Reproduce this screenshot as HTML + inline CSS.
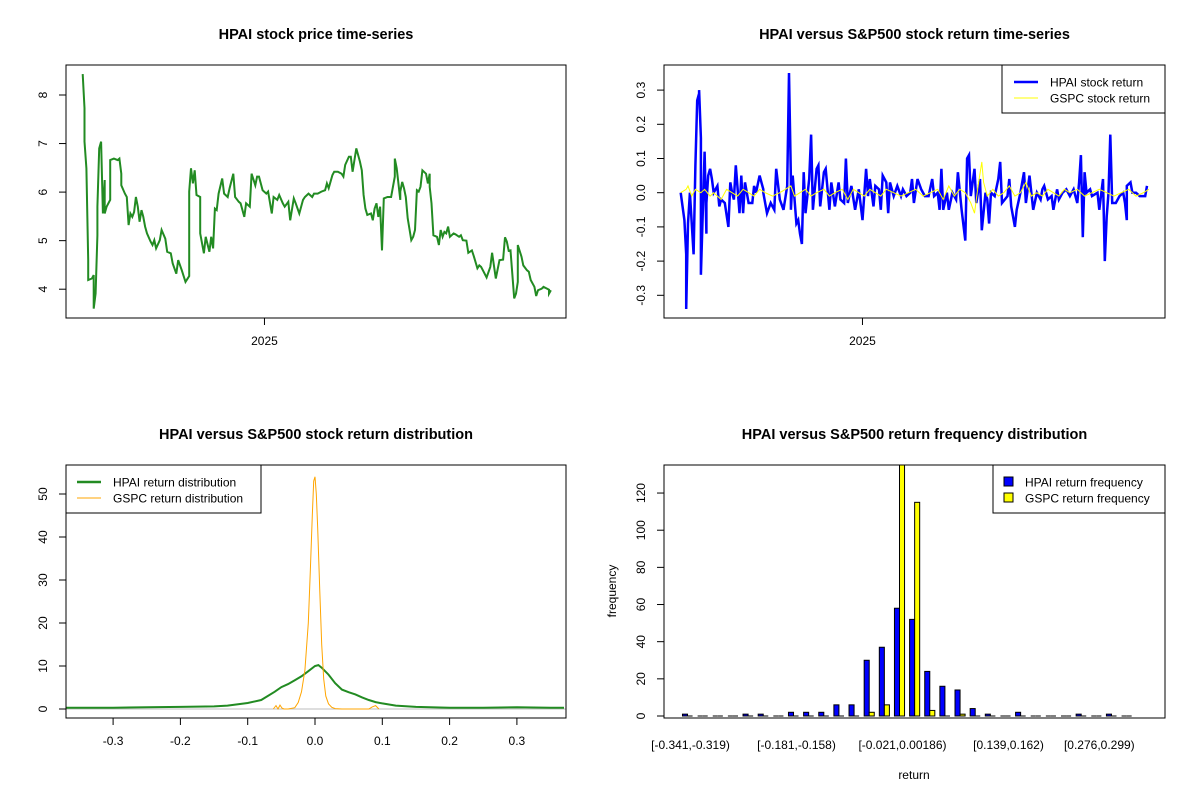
<!DOCTYPE html>
<html><head><meta charset="utf-8">
<style>
html,body{margin:0;padding:0;background:#fff;}
svg{display:block;font-family:"Liberation Sans",Arial,sans-serif;}
</style></head>
<body>
<svg id="chart" width="1200" height="800" viewBox="0 0 1200 800"></svg>
<script>
// ---------- DATA ----------
// HPAI price: [trading day, price]
const pricePts = [[0,8.43],[1,7.73],[1,7.04],[2,6.49],[3,4.60],[3,4.19],[5,4.22],[6,4.29],[6,3.60],[7,3.91],[8,5.11],[8,5.70],[9,6.90],[10,7.04],[11,5.56],[12,6.25],[12,5.56],[13,5.70],[15,5.84],[15,6.66],[17,6.69],[19,6.66],[20,6.69],[21,6.38],[21,6.14],[23,5.97],[24,5.90],[25,5.32],[26,5.56],[27,5.49],[28,5.59],[29,5.90],[30,5.70],[31,5.39],[32,5.63],[33,5.49],[34,5.29],[35,5.15],[37,4.98],[38,4.91],[39,5.01],[40,4.84],[42,5.01],[43,5.22],[45,5.04],[46,4.77],[48,4.74],[49,4.53],[51,4.32],[52,4.60],[54,4.39],[56,4.15],[58,4.27],[58,6.01],[59,6.49],[60,6.18],[61,6.45],[62,5.94],[64,5.90],[64,5.15],[66,4.74],[67,5.08],[69,4.77],[70,5.08],[71,4.84],[72,5.66],[73,5.63],[74,5.97],[76,6.28],[77,5.97],[79,5.90],[80,6.08],[82,6.38],[83,5.90],[85,5.80],[86,5.77],[88,5.49],[89,5.77],[91,5.70],[92,6.38],[94,6.14],[95,6.32],[96,6.32],[98,6.04],[100,5.97],[101,6.01],[103,5.56],[104,5.90],[106,5.84],[107,5.94],[109,5.77],[110,5.70],[112,5.80],[113,5.42],[115,5.87],[116,5.77],[118,5.56],[120,5.84],[121,5.90],[123,5.97],[125,5.90],[126,5.97],[128,5.97],[130,6.01],[132,6.04],[133,6.18],[134,6.08],[136,6.35],[137,6.42],[139,6.42],[141,6.38],[142,6.32],[143,6.56],[145,6.73],[146,6.73],[147,6.42],[149,6.90],[151,6.63],[152,6.45],[153,5.94],[154,5.66],[155,5.53],[157,5.56],[158,5.42],[159,5.66],[160,5.77],[161,5.49],[162,5.70],[163,4.80],[164,5.87],[166,5.90],[168,5.90],[170,6.32],[170,6.69],[171,6.49],[173,5.84],[173,6.01],[174,6.21],[175,6.08],[176,5.90],[177,5.46],[179,5.01],[180,5.08],[181,5.22],[182,6.04],[183,6.01],[184,6.11],[185,6.45],[187,6.38],[188,6.18],[189,6.38],[189,6.11],[190,5.77],[191,5.11],[193,5.08],[194,4.91],[195,5.22],[196,5.08],[197,5.18],[198,5.15],[199,5.29],[200,5.08],[202,5.15],[203,5.13],[205,5.08],[206,5.11],[207,5.01],[209,5.00],[210,4.75],[212,4.80],[213,4.68],[215,4.43],[216,4.49],[217,4.46],[218,4.39],[220,4.24],[222,4.46],[223,4.75],[225,4.22],[227,4.60],[229,4.61],[230,5.07],[231,4.98],[232,4.79],[233,4.80],[235,3.81],[236,3.91],[237,4.15],[237,4.91],[239,4.67],[240,4.49],[242,4.39],[243,4.36],[244,4.19],[246,4.05],[247,3.86],[248,3.98],[250,4.01],[251,4.05],[253,4.01],[254,3.99],[254,3.91],[255,3.98]];
const priceTicks = [4,5,6,7,8];
const dateTickDay = [99];
const dateTickLabels = ["2025"];

// HPAI daily return: [trading day, return]
const hpaiRet = [[0,0],[2,-0.08],[3,-0.18],[3,-0.34],[4,-0.09],[5,0],[7,-0.18],[8,0.08],[9,0.27],[10,0.29],[10,0.30],[11,0.16],[11,-0.24],[13,0.12],[14,-0.12],[14,-0.03],[15,0.05],[16,0.07],[17,0.04],[18,0.0],[20,0.02],[21,-0.04],[22,-0.02],[24,-0.03],[26,-0.10],[27,0.03],[28,0.0],[29,-0.02],[30,0.08],[32,-0.06],[33,0.05],[34,-0.06],[35,0.03],[37,-0.03],[39,-0.03],[40,0.02],[41,0],[43,0.05],[45,0.01],[45,0.0],[47,-0.06],[49,-0.03],[51,-0.05],[52,0.07],[54,-0.02],[56,-0.05],[58,0.02],[59,0.35],[60,0.04],[60,-0.05],[61,0.05],[63,-0.09],[64,-0.08],[65,-0.12],[66,-0.15],[67,0.06],[68,-0.06],[70,0.04],[71,0.17],[72,-0.05],[74,0.07],[75,0.08],[76,-0.04],[78,0.06],[79,0.07],[81,-0.05],[82,0.03],[84,-0.04],[86,0.03],[87,-0.02],[89,-0.03],[90,0.10],[91,-0.03],[93,0.02],[95,-0.05],[97,0.01],[99,-0.08],[101,0.07],[102,-0.01],[103,0.04],[105,-0.04],[106,0.02],[108,0.01],[109,-0.05],[110,0.05],[112,0.03],[113,-0.06],[114,0.03],[116,-0.01],[118,0.02],[120,-0.01],[121,0.01],[123,-0.01],[125,0.0],[126,0.04],[127,-0.03],[129,0.04],[131,0.01],[133,-0.01],[135,-0.01],[137,0.04],[138,-0.01],[140,0.0],[141,-0.05],[142,0.07],[143,-0.05],[145,0.0],[146,-0.05],[148,0.0],[150,-0.02],[151,0.06],[153,-0.05],[155,-0.14],[156,0.10],[157,0.11],[158,-0.01],[160,0.07],[161,-0.03],[163,0.04],[164,-0.11],[166,0.0],[167,-0.02],[168,-0.09],[169,0.0],[171,-0.01],[173,0.04],[174,0.09],[175,-0.03],[178,-0.01],[179,0.04],[180,-0.04],[182,-0.10],[183,-0.05],[185,0.0],[187,0.06],[188,-0.03],[190,0.05],[192,-0.05],[194,0.0],[196,-0.02],[197,0.01],[198,0.02],[200,-0.02],[202,-0.01],[203,-0.05],[205,0.01],[206,-0.02],[208,0.0],[210,0.01],[212,-0.01],[214,0.01],[216,-0.03],[217,0.03],[218,0.11],[219,-0.13],[220,0.06],[221,0.0],[223,0.01],[224,-0.01],[227,0.0],[228,-0.05],[230,0.04],[231,-0.20],[232,-0.07],[233,0.0],[234,0.17],[235,-0.03],[237,-0.03],[239,-0.01],[241,0.0],[242,-0.03],[243,-0.08],[243,0.02],[245,0.03],[246,0.0],[248,0.0],[250,-0.01],[252,-0.01],[253,-0.01],[254,0.02]];
// S&P500 (GSPC) daily return: [trading day, return]
const gspcRet = [[0,0.0],[3,0.01],[4,0.02],[6,-0.01],[8,0.01],[11,0.0],[13,0.01],[16,-0.01],[18,0.0],[22,-0.02],[25,0.01],[28,0.0],[31,-0.01],[34,0.01],[37,0.0],[40,-0.01],[43,0.01],[46,0.0],[50,-0.01],[54,0.0],[57,0.01],[60,0.02],[62,-0.01],[65,0.0],[68,0.01],[71,-0.01],[74,0.0],[78,0.01],[81,-0.01],[84,0.0],[88,0.01],[91,-0.02],[94,0.01],[97,0.0],[100,-0.01],[103,0.01],[106,0.0],[109,-0.01],[112,0.01],[116,0.0],[120,-0.01],[124,0.0],[128,0.01],[132,-0.01],[136,0.0],[140,0.01],[143,-0.02],[146,0.02],[149,-0.01],[152,0.01],[155,0.0],[158,-0.03],[160,-0.06],[162,0.02],[164,0.09],[165,0.03],[167,-0.01],[170,0.01],[173,-0.01],[176,0.0],[179,0.02],[182,-0.01],[185,0.0],[188,0.03],[191,-0.01],[194,0.0],[197,-0.01],[200,0.01],[203,0.0],[206,-0.01],[209,0.01],[212,0.0],[216,0.01],[220,-0.01],[224,0.0],[228,0.01],[232,0.0],[236,-0.01],[240,0.0],[244,0.01],[248,-0.01],[252,0.0],[255,0.01]];
const retTicks = [-0.3,-0.2,-0.1,0.0,0.1,0.2,0.3];

// Density estimates
const hpaiDensX = [-0.37,-0.35,-0.3,-0.25,-0.2,-0.15,-0.13,-0.1,-0.08,-0.06,-0.05,-0.04,-0.03,-0.02,-0.01,0.0,0.005,0.01,0.02,0.03,0.04,0.05,0.06,0.07,0.08,0.09,0.1,0.12,0.15,0.2,0.25,0.3,0.35,0.37];
const hpaiDensY = [0.3,0.3,0.3,0.4,0.5,0.6,0.8,1.4,2.1,4.0,5.1,5.8,6.7,7.6,8.8,10.0,10.2,9.6,8.0,6.0,4.5,3.9,3.4,2.7,2.1,1.6,1.3,0.8,0.5,0.3,0.3,0.4,0.3,0.3];
const gspcDensX = [-0.062,-0.058,-0.055,-0.052,-0.049,-0.046,-0.04,-0.03,-0.025,-0.02,-0.015,-0.01,-0.007,-0.004,-0.002,0.0,0.002,0.004,0.007,0.01,0.013,0.016,0.02,0.025,0.03,0.04,0.08,0.085,0.09,0.095];
const gspcDensY = [0,0.8,0,0.9,0.2,0,0,0.3,1.5,4,9,20,32,45,53,54,50,42,28,15,7,3,1.2,0.4,0.1,0,0,0.5,0.8,0];
const densXTicks = [-0.3,-0.2,-0.1,0.0,0.1,0.2,0.3];
const densYTicks = [0,10,20,30,40,50];

// Histogram (30 bins)
const hpaiFreq = [1,0,0,0,1,1,0,2,2,2,6,6,30,37,58,52,24,16,14,4,1,0,2,0,0,0,1,0,1,0];
const gspcFreq = [0,0,0,0,0,0,0,0,0,0,0,0,2,6,140,115,3,0,1,0,0,0,0,0,0,0,0,0,0,0];
const binLabelIdx = [0,7,14,21,27];
const binLabels = ["[-0.341,-0.319)","[-0.181,-0.158)","[-0.021,0.00186)","[0.139,0.162)","[0.276,0.299)"];
const freqTicks = [0,20,40,60,80,100,120];

// ---------- RENDER ----------
const NS = "http://www.w3.org/2000/svg";
const svg = document.getElementById('chart');
function mk(tag, attrs, parent, text){
  const e = document.createElementNS(NS, tag);
  for (const k in attrs) e.setAttribute(k, attrs[k]);
  if (text !== undefined) e.textContent = text;
  (parent || svg).appendChild(e);
  return e;
}
function fmt(v, d){ return v.toFixed(d); }

function panel(name, L, T, R, B, title){
  const g = mk('g', {});
  
  
  const t = mk('text', {x:(L+R)/2, y:T-26, 'text-anchor':'middle', 'font-size':'14.5', 'font-weight':'bold'}, g, title);
  
  
  return g;
}
function boxRect(g, name, L, T, R, B){
  const r = mk('rect', {x:L, y:T, width:R-L, height:B-T, fill:'none', stroke:'#000', 'stroke-width':1}, g);
  
  
}
function yAxis(g, name, L, ticks, sy, dec){
  const ax = mk('g', {}, g);
  
  
  const ys = ticks.map(sy);
  mk('line', {x1:L, x2:L, y1:Math.min(...ys), y2:Math.max(...ys), stroke:'#000'}, ax);
  ticks.forEach(v => {
    const y = sy(v);
    mk('line', {x1:L-7, x2:L, y1:y, y2:y, stroke:'#000'}, ax);
    const t = mk('text', {x:L-23, y:y, 'text-anchor':'middle', 'font-size':'12', transform:`rotate(-90 ${L-23} ${y})`, 'dominant-baseline':'central'}, ax, dec===null? String(v) : fmt(v,dec));
    
    
  });
}
function xAxisTicks(g, name, B, ticks, sx, labels){
  const ax = mk('g', {}, g);
  
  
  const xs = ticks.map(sx);
  if (xs.length > 1) mk('line', {x1:Math.min(...xs), x2:Math.max(...xs), y1:B, y2:B, stroke:'#000'}, ax);
  ticks.forEach((v,i) => {
    const x = sx(v);
    mk('line', {x1:x, x2:x, y1:B, y2:B+7, stroke:'#000'}, ax);
    const t = mk('text', {x:x, y:B+27, 'text-anchor':'middle', 'font-size':'12'}, ax, labels[i]);
    
    
  });
}
function pathOf(pts){ return pts.map((p,i)=>(i?'L':'M')+p[0].toFixed(1)+' '+p[1].toFixed(1)).join(' '); }

// ===== Panel 1: price =====
{
  const L=66,T=65,R=566,B=318;
  const g = panel('price-panel', L,T,R,B,'HPAI stock price time-series');
  const sx = d => 82.7 + d*1.836;
  const sy = v => 95 + (8 - v)*48.55;
  const p = mk('path', {d:pathOf(pricePts.map(q=>[sx(q[0]),sy(q[1])])), fill:'none', stroke:'#228B22', 'stroke-width':2}, g);
  
  
  yAxis(g,'price',L,priceTicks,sy,null);
  xAxisTicks(g,'price',B,dateTickDay,sx,dateTickLabels);
  boxRect(g,'price',L,T,R,B);
}
// ===== Panel 2: returns =====
{
  const L=664,T=65,R=1165,B=318;
  const g = panel('return-panel', L,T,R,B,'HPAI versus S&P500 stock return time-series');
  const sx = d => 680.7 + d*1.836;
  const sy = v => 192.7 - v*342;
  const p = mk('path', {d:pathOf(hpaiRet.map(q=>[sx(q[0]),sy(q[1])])), fill:'none', stroke:'#0000FF', 'stroke-width':2.5}, g);
  
  
  const p2 = mk('path', {d:pathOf(gspcRet.map(q=>[sx(q[0]),sy(q[1])])), fill:'none', stroke:'#FFFF00', 'stroke-width':1}, g);
  
  
  yAxis(g,'return',L,retTicks,sy,1);
  xAxisTicks(g,'return',B,dateTickDay,sx,dateTickLabels);
  boxRect(g,'return',L,T,R,B);
  const lg = mk('g', {}, g);
  
  
  mk('rect', {x:1002, y:65, width:163, height:48, fill:'#fff', stroke:'#000'}, lg);
  mk('line', {x1:1014, x2:1038, y1:82, y2:82, stroke:'#0000FF', 'stroke-width':2.5}, lg);
  mk('line', {x1:1014, x2:1038, y1:98, y2:98, stroke:'#FFFF00', 'stroke-width':1}, lg);
  const a = mk('text', {x:1050, y:86.5, 'font-size':'12'}, lg, 'HPAI stock return');
  
  
  const b = mk('text', {x:1050, y:102.5, 'font-size':'12'}, lg, 'GSPC stock return');
  
  
}
// ===== Panel 3: density =====
{
  const L=66,T=465,R=566,B=718;
  const g = panel('density-panel', L,T,R,B,'HPAI versus S&P500 stock return distribution');
  const sx = v => 315 + v*673;
  const sy = v => 709 - v*4.3;
  mk('line', {x1:L, x2:R, y1:sy(0), y2:sy(0), stroke:'#bebebe'}, g);
  const p = mk('path', {d:pathOf(hpaiDensX.map((x,i)=>[sx(x),sy(hpaiDensY[i])])), fill:'none', stroke:'#228B22', 'stroke-width':2}, g);
  
  
  const p2 = mk('path', {d:pathOf(gspcDensX.map((x,i)=>[sx(x),sy(gspcDensY[i])])), fill:'none', stroke:'#FFA500', 'stroke-width':1}, g);
  
  
  yAxis(g,'density',L,densYTicks,sy,null);
  xAxisTicks(g,'density',B,densXTicks,sx,densXTicks.map(v=>fmt(v,1)));
  boxRect(g,'density',L,T,R,B);
  const lg = mk('g', {}, g);
  
  
  mk('rect', {x:66, y:465, width:195, height:48, fill:'#fff', stroke:'#000'}, lg);
  mk('line', {x1:77, x2:101, y1:482, y2:482, stroke:'#228B22', 'stroke-width':2.5}, lg);
  mk('line', {x1:77, x2:101, y1:498, y2:498, stroke:'#FFA500', 'stroke-width':1}, lg);
  const a = mk('text', {x:113, y:486.5, 'font-size':'12'}, lg, 'HPAI return distribution');
  
  
  const b = mk('text', {x:113, y:502.5, 'font-size':'12'}, lg, 'GSPC return distribution');
  
  
}
// ===== Panel 4: histogram =====
{
  const L=664,T=465,R=1165,B=718;
  const g = panel('histogram-panel', L,T,R,B,'HPAI versus S&P500 return frequency distribution');
  const sx = u => 685 + (u - 1.5)*5.047;
  const sy = v => 716 - v*1.858;
  const defs = mk('defs', {}, g);
  const cp = mk('clipPath', {id:'histclip'}, defs);
  mk('rect', {x:L, y:T, width:R-L, height:B-T}, cp);
  const bars = mk('g', {'clip-path':'url(#histclip)'}, g);
  
  
  function bar(x0, x1, v, fill, nm){
    let e;
    if (v <= 0) {
      e = mk('line', {x1:x0, x2:x1, y1:sy(0), y2:sy(0), stroke:'#000', 'stroke-width':1}, bars);
    } else {
      e = mk('rect', {x:x0, y:sy(v), width:x1-x0, height:sy(0)-sy(v), fill:fill, stroke:'#000', 'stroke-width':1}, bars);
    }
    
    
  }
  hpaiFreq.forEach((v,i) => {
    bar(sx(1+3*i), sx(2+3*i), v, '#0000FF', 'bar-hpai');
    bar(sx(2+3*i), sx(3+3*i), gspcFreq[i], '#FFFF00', 'bar-gspc');
  });
  yAxis(g,'frequency',L,freqTicks,sy,null);
  binLabelIdx.forEach((bi,k) => {
    const t = mk('text', {x:sx(2+3*bi)+3, y:749, 'text-anchor':'middle', 'font-size':'12'}, g, binLabels[k]);
    
    
  });
  const xt = mk('text', {x:914, y:779, 'text-anchor':'middle', 'font-size':'12'}, g, 'return');
  
  
  const yt = mk('text', {x:616, y:591, 'text-anchor':'middle', 'font-size':'12', transform:'rotate(-90 616 591)'}, g, 'frequency');
  
  
  boxRect(g,'histogram',L,T,R,B);
  const lg = mk('g', {}, g);
  
  
  mk('rect', {x:993, y:465, width:172, height:48, fill:'#fff', stroke:'#000'}, lg);
  mk('rect', {x:1004, y:477, width:9, height:9, fill:'#0000FF', stroke:'#000'}, lg);
  mk('rect', {x:1004, y:493, width:9, height:9, fill:'#FFFF00', stroke:'#000'}, lg);
  const a = mk('text', {x:1025, y:486.5, 'font-size':'12'}, lg, 'HPAI return frequency');
  
  
  const b = mk('text', {x:1025, y:502.5, 'font-size':'12'}, lg, 'GSPC return frequency');
  
  
}
</script>
</body></html>
